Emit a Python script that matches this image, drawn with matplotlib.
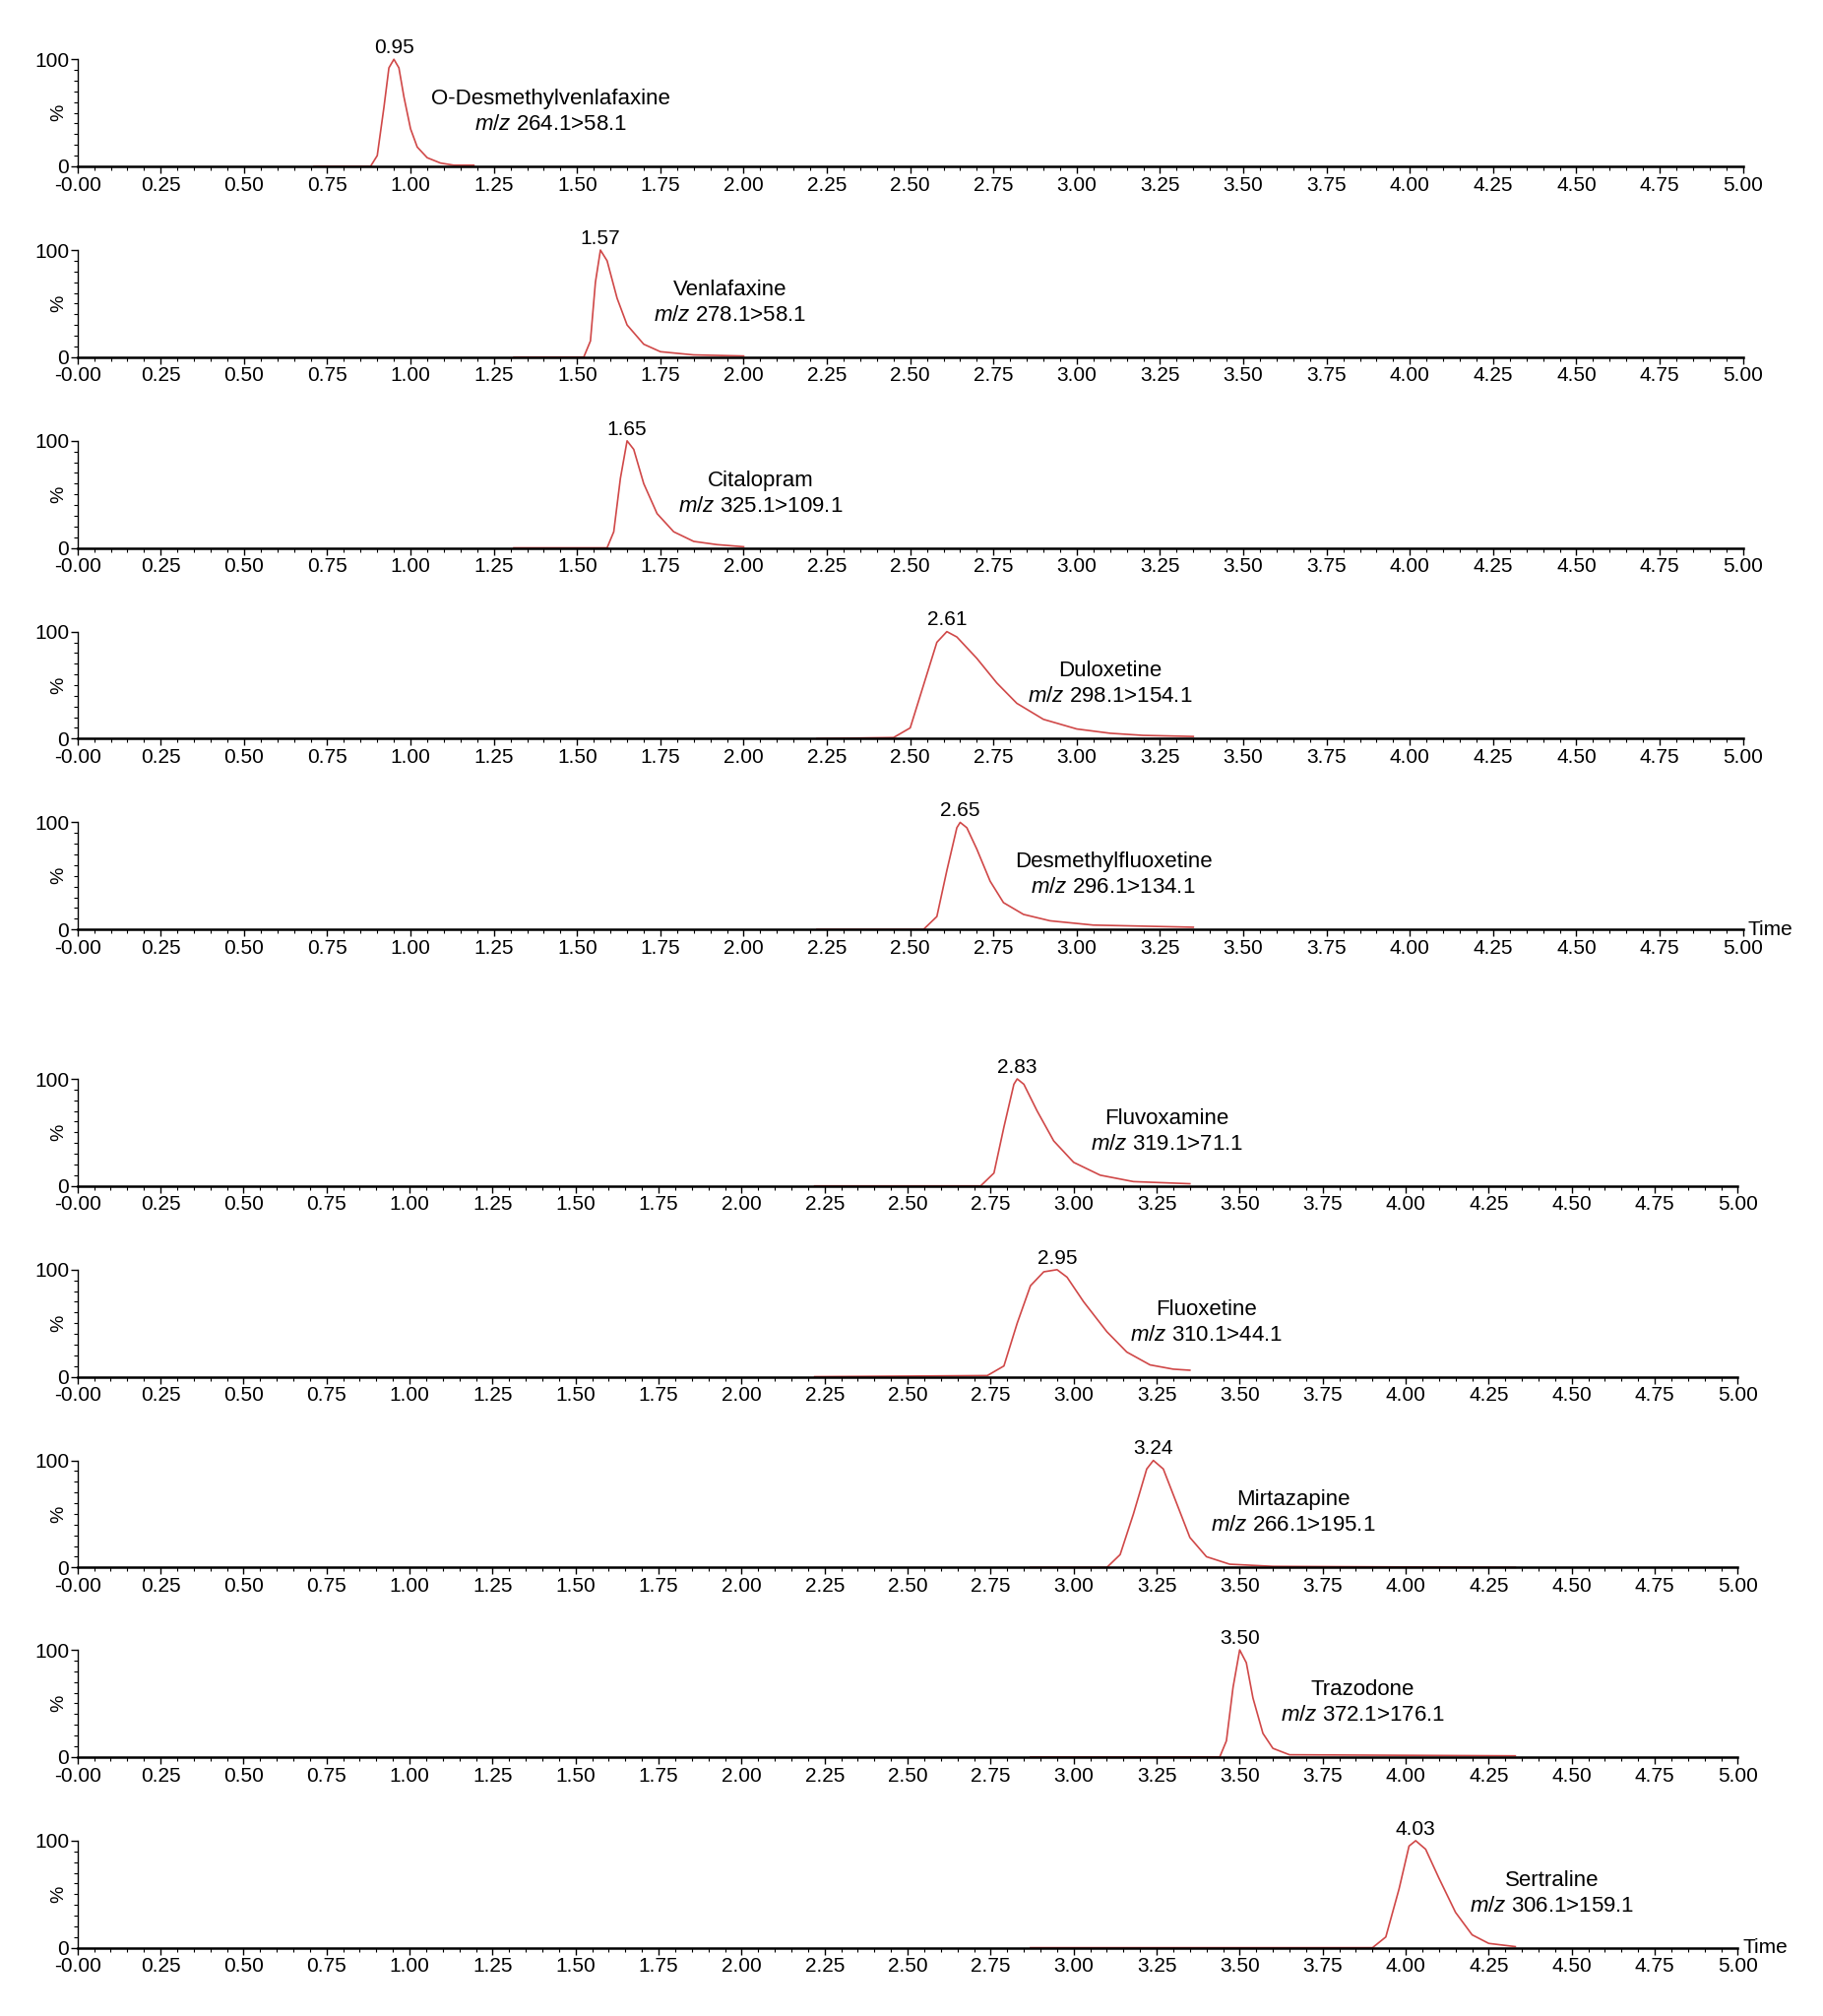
import matplotlib
matplotlib.use("Agg")
import matplotlib.pyplot as plt
from matplotlib.ticker import MultipleLocator, FixedLocator

plt.rcParams['font.family'] = ['Liberation Sans', 'DejaVu Sans']
plt.rcParams['mathtext.fontset'] = 'custom'
plt.rcParams['mathtext.rm'] = 'Liberation Sans'
plt.rcParams['mathtext.it'] = 'Liberation Sans:italic'

names = ["O-Desmethylvenlafaxine", "Venlafaxine", "Citalopram", "Duloxetine", "Desmethylfluoxetine",
         "Fluvoxamine", "Fluoxetine", "Mirtazapine", "Trazodone", "Sertraline"]
transitions = ["264.1>58.1", "278.1>58.1", "325.1>109.1", "298.1>154.1", "296.1>134.1",
               "319.1>71.1", "310.1>44.1", "266.1>195.1", "372.1>176.1", "306.1>159.1"]
peak_rt = ["0.95", "1.57", "1.65", "2.61", "2.65", "2.83", "2.95", "3.24", "3.50", "4.03"]

t1 = [0.71, 0.88, 0.90, 0.92, 0.935, 0.95, 0.965, 0.98, 1.00, 1.02, 1.05, 1.09, 1.13, 1.19]
i1 = [0, 0, 10, 55, 92, 100, 92, 65, 35, 18, 8, 3, 1, 1]
t2 = [1.31, 1.52, 1.54, 1.555, 1.57, 1.59, 1.62, 1.65, 1.70, 1.75, 1.85, 2.00]
i2 = [0, 0, 15, 70, 100, 90, 55, 30, 12, 5, 2, 1]
t3 = [1.31, 1.59, 1.61, 1.63, 1.65, 1.67, 1.70, 1.74, 1.79, 1.85, 1.92, 2.00]
i3 = [0, 0, 15, 65, 100, 92, 60, 32, 15, 6, 3, 1]
t4 = [2.22, 2.45, 2.50, 2.54, 2.58, 2.61, 2.64, 2.70, 2.76, 2.82, 2.90, 3.00, 3.10, 3.20, 3.35]
i4 = [0, 1, 10, 50, 90, 100, 95, 75, 52, 33, 18, 9, 5, 3, 2]
t5 = [2.22, 2.54, 2.58, 2.61, 2.64, 2.65, 2.67, 2.70, 2.74, 2.78, 2.84, 2.92, 3.05, 3.35]
i5 = [0, 0, 12, 55, 95, 100, 95, 75, 45, 25, 14, 8, 4, 2]
t6 = [2.22, 2.72, 2.76, 2.79, 2.82, 2.83, 2.85, 2.89, 2.94, 3.00, 3.08, 3.18, 3.35]
i6 = [0, 0, 12, 55, 95, 100, 95, 70, 42, 22, 10, 4, 2]
t7 = [2.22, 2.74, 2.79, 2.83, 2.87, 2.91, 2.95, 2.98, 3.03, 3.10, 3.16, 3.23, 3.30, 3.35]
i7 = [0, 1, 10, 50, 85, 98, 100, 93, 70, 42, 23, 11, 7, 6]
t8 = [2.87, 3.10, 3.14, 3.18, 3.22, 3.24, 3.27, 3.31, 3.35, 3.40, 3.47, 3.60, 4.33]
i8 = [0, 0, 12, 50, 92, 100, 92, 60, 28, 10, 3, 1, 0]
t9 = [2.87, 3.44, 3.46, 3.48, 3.50, 3.52, 3.54, 3.57, 3.60, 3.65, 4.33]
i9 = [0, 0, 15, 65, 100, 88, 55, 22, 8, 2, 1]
t10 = [2.87, 3.90, 3.94, 3.98, 4.01, 4.03, 4.06, 4.10, 4.15, 4.20, 4.25, 4.33]
i10 = [0, 0, 10, 55, 95, 100, 92, 65, 33, 12, 4, 1]
times = [t1, t2, t3, t4, t5, t6, t7, t8, t9, t10]
intens = [i1, i2, i3, i4, i5, i6, i7, i8, i9, i10]
label_x = [1.42, 1.96, 2.05, 3.10, 3.11, 3.28, 3.40, 3.66, 3.87, 4.44]

W, H = 1412.0, 1564.0
zero_y = [129, 277, 425, 573, 721, 920, 1068, 1216, 1363, 1511]
fig = plt.figure(figsize=(18.52, 20.48), dpi=100)
red = '#d04848'
xt = [0, 0.25, 0.5, 0.75, 1, 1.25, 1.5, 1.75, 2, 2.25, 2.5, 2.75, 3, 3.25, 3.5, 3.75, 4, 4.25, 4.5, 4.75, 5]
for k in range(10):
    right = 1350 if k < 5 else 1346
    ax = fig.add_axes([60 / W, 1 - zero_y[k] / H, (right - 60) / W, 83 / H])
    ax.plot(times[k], intens[k], color=red, lw=1.2, clip_on=False)
    ax.set_xlim(0, 5)
    ax.set_ylim(0, 100)
    for s in ['top', 'right']:
        ax.spines[s].set_visible(False)
    ax.spines['bottom'].set_linewidth(1.8)
    ax.spines['left'].set_linewidth(1.0)
    ax.xaxis.set_major_locator(FixedLocator(xt))
    ax.set_xticklabels(['-0.00'] + ['%.2f' % v for v in xt[1:]])
    ax.xaxis.set_minor_locator(MultipleLocator(0.05))
    ax.set_yticks([0, 100])
    ax.yaxis.set_minor_locator(MultipleLocator(10))
    ax.tick_params(axis='both', which='major', labelsize=15, length=5, pad=2, width=1)
    ax.tick_params(axis='y', which='major', pad=1)
    ax.tick_params(axis='both', which='minor', length=3, width=0.8)
    ax.text(-0.011, 0.5, '%', transform=ax.transAxes, rotation=90, ha='center', va='center', fontsize=14)
    ax.text(float(peak_rt[k]), 102, peak_rt[k], ha='center', va='bottom', fontsize=15)
    ax.text(label_x[k], 63, names[k], ha='center', va='center', fontsize=16)
    ax.text(label_x[k], 39, r'$\it{m/z}$ ' + transitions[k], ha='center', va='center', fontsize=16)
    if k in (4, 9):
        ax.text(1.003, 0.0, 'Time', transform=ax.transAxes, ha='left', va='center', fontsize=15)

fig.savefig('out.png', dpi=100)
